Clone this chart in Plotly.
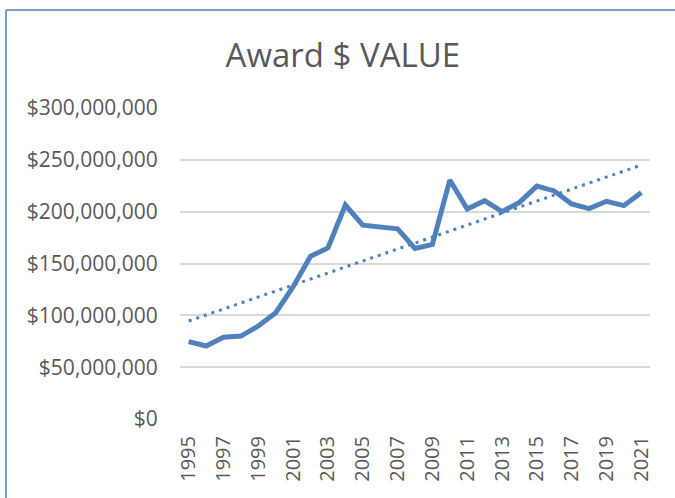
import numpy as np
import plotly.graph_objects as go

years = list(range(1995, 2022))
award_values = [74.6e6, 70.4e6, 78.8e6, 80.0e6, 89.7e6, 102.5e6, 127.6e6, 157.0e6, 165.0e6,
                206.4e6, 187.0e6, 185.5e6, 183.5e6, 164.5e6, 168.5e6, 230.5e6, 202.5e6,
                210.6e6, 200.0e6, 209.0e6, 224.7e6, 220.0e6, 207.5e6, 203.0e6, 210.0e6,
                205.8e6, 218.5e6]
tick_years = list(range(1995, 2022, 2))
y_ticks = [0, 50e6, 100e6, 150e6, 200e6, 250e6, 300e6]
y_tick_labels = ["$0", "$50,000,000", "$100,000,000", "$150,000,000",
                 "$200,000,000", "$250,000,000", "$300,000,000"]

# linear trendline (least squares, like Excel)
coef = np.polyfit(years, award_values, 1)
trend = np.polyval(coef, years)

blue = "#4F81BD"
txt = "#595959"

fig = go.Figure()
fig.add_trace(go.Scatter(x=years, y=trend, mode="lines",
                         line=dict(color=blue, width=3, dash="3px,5px"),
                         hoverinfo="skip", showlegend=False))
fig.add_trace(go.Scatter(x=years, y=award_values, mode="lines",
                         line=dict(color=blue, width=5),
                         showlegend=False))

fig.update_layout(
    width=675, height=498,
    margin=dict(l=180, r=25, t=108, b=79),
    paper_bgcolor="white", plot_bgcolor="white",
    font=dict(family="Open Sans", color=txt, size=20),
    title=dict(text="Award $ VALUE", x=0.508, xref="container", xanchor="center",
               y=1 - 55 / 498, yref="container", yanchor="middle",
               font=dict(size=33, color=txt, family="Open Sans")),
    xaxis=dict(range=[1994.5, 2021.5], tickvals=tick_years, ticktext=[str(y) for y in tick_years],
               tickangle=-90, showgrid=False, zeroline=False, showline=False,
               ticks="outside", ticklen=8, tickcolor="rgba(0,0,0,0)",
               tickfont=dict(size=20, color=txt)),
    yaxis=dict(range=[0, 300e6], tickvals=y_ticks, ticktext=y_tick_labels,
               showgrid=True, gridcolor="#D9D9D9",
               gridwidth=1.5, zeroline=False, showline=False,
               ticks="outside", ticklen=17, tickcolor="rgba(0,0,0,0)",
               tickfont=dict(size=21, color=txt)),
    shapes=[
        dict(type="line", xref="paper", yref="paper",
             x0=(6 - 180) / 470, x1=(680 - 180) / 470,
             y0=(419 - 10) / 311, y1=(419 - 10) / 311,
             line=dict(color=blue, width=1.5)),
        dict(type="line", xref="paper", yref="paper",
             x0=(6 - 180) / 470, x1=(6 - 180) / 470,
             y0=(419 - 10) / 311, y1=(419 - 505) / 311,
             line=dict(color=blue, width=1.5)),
    ],
)

fig.write_html("out.html", config={"displayModeBar": False},
               post_script="document.body.style.margin='0';document.body.style.overflow='hidden';")
